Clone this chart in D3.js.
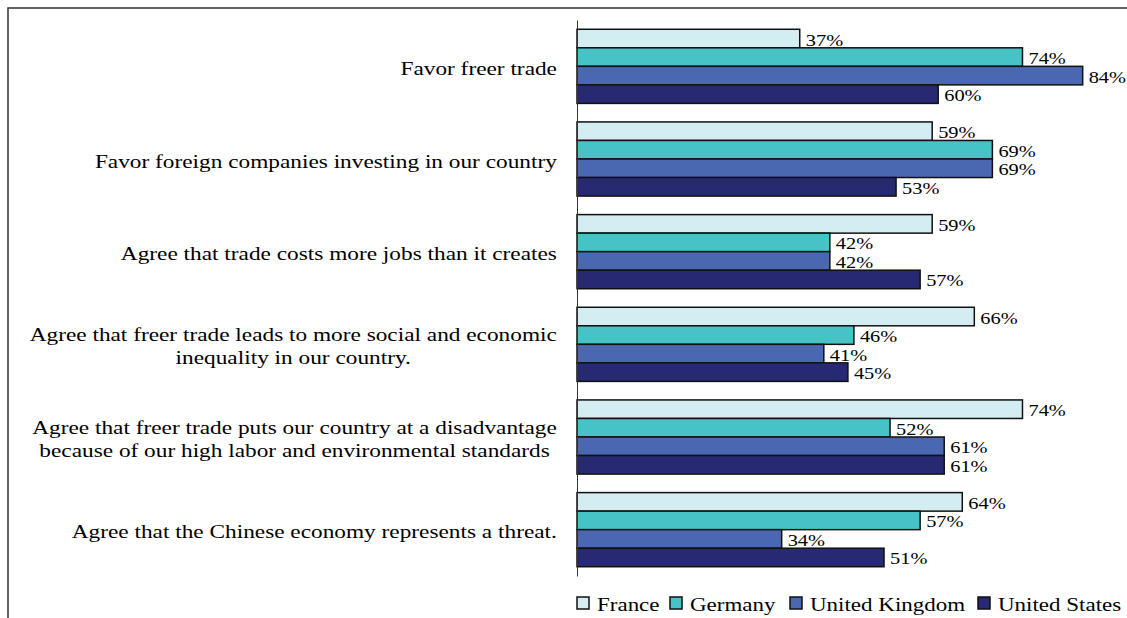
<!DOCTYPE html>
<html><head><meta charset="utf-8">
<script src="https://cdn.jsdelivr.net/npm/d3@7"></script>
<style>body{margin:0;background:#fff}svg{display:block}text{font-family:"Liberation Serif","Times New Roman",serif;fill:#000}</style>
</head><body>
<svg id="c" width="1127" height="618"></svg>
<script>
const categories = [
  ["Favor freer trade"],
  ["Favor foreign companies investing in our country"],
  ["Agree that trade costs more jobs than it creates"],
  ["Agree that freer trade leads to more social and economic", "inequality in our country."],
  ["Agree that freer trade puts our country at a disadvantage", "because of our high labor and environmental standards"],
  ["Agree that the Chinese economy represents a threat."]
];
const seriesNames = ["France", "Germany", "United Kingdom", "United States"];
const france  = [37, 59, 59, 66, 74, 64];
const germany = [74, 69, 42, 46, 52, 57];
const uk      = [84, 69, 42, 41, 61, 34];
const us      = [60, 53, 57, 45, 61, 51];
const seriesValues = [france, germany, uk, us];
const colors = ["#d3edf3", "#48c3c5", "#4a68b1", "#272a72"];

const svg = d3.select("#c");
const SX_LABEL = 1.26, SX_VALUE = 1.2, SX_LEGEND = 1.21;
const x0 = 577, yTop = 20, yBottom = 576, labelRight = 557;
const x = d3.scaleLinear().domain([0, 100]).range([x0, x0 + 602]);
const y = d3.scaleBand().domain(d3.range(categories.length)).range([yTop, yBottom]).paddingInner(0.2).paddingOuter(0.1);
const yi = d3.scaleBand().domain(d3.range(seriesNames.length)).range([0, y.bandwidth()]);

// frame
svg.append("path").attr("d", "M8,618V8H1127").attr("fill", "none").attr("stroke", "#333").attr("stroke-width", 1.5);

const g = svg.append("g");
categories.forEach((cat, i) => {
  seriesValues.forEach((vals, s) => {
    const yy = y(i) + yi(s);
    g.append("rect").attr("x", x(0)).attr("y", yy).attr("width", x(vals[i]) - x(0)).attr("height", yi.bandwidth())
      .attr("fill", colors[s]).attr("stroke", "#111").attr("stroke-width", 1.5);
    g.append("text").attr("transform", `translate(${x(vals[i]) + 6},${yy + yi.bandwidth() / 2 + 7}) scale(${SX_VALUE},1)`)
      .style("font-size", "17px").text(vals[i] + "%");
  });
  const cy = y(i) + y.bandwidth() / 2;
  const n = cat.length, lh = 22.7;
  const texts = cat.map((line, k) => {
    const by = cy + 8.5 + (k - (n - 1) / 2) * lh;
    return g.append("text").attr("text-anchor", "middle").attr("data-y", by)
      .style("font-size", "18.5px").text(line);
  });
  const maxW = d3.max(texts, t => t.node().getComputedTextLength()) * SX_LABEL;
  const cx = labelRight - maxW / 2;
  texts.forEach(t => t.attr("transform", `translate(${cx},${t.attr("data-y")}) scale(${SX_LABEL},1)`));
});

// axis
const axis = d3.axisLeft(d3.scaleLinear().range([yTop, yBottom])).ticks(0).tickSizeOuter(0);
svg.append("g").attr("transform", `translate(${x0},0)`).call(axis).call(a => a.select(".domain").attr("stroke", "#333"));

// legend
const legX = [577, 670, 790, 978];
const lg = svg.append("g");
seriesNames.forEach((n, s) => {
  lg.append("rect").attr("x", legX[s]).attr("y", 597).attr("width", 12).attr("height", 12)
    .attr("fill", colors[s]).attr("stroke", "#111").attr("stroke-width", 1.5);
  lg.append("text").attr("transform", `translate(${legX[s] + 20},611) scale(${SX_LEGEND},1)`).style("font-size", "19px").text(n);
});
</script></body></html>
